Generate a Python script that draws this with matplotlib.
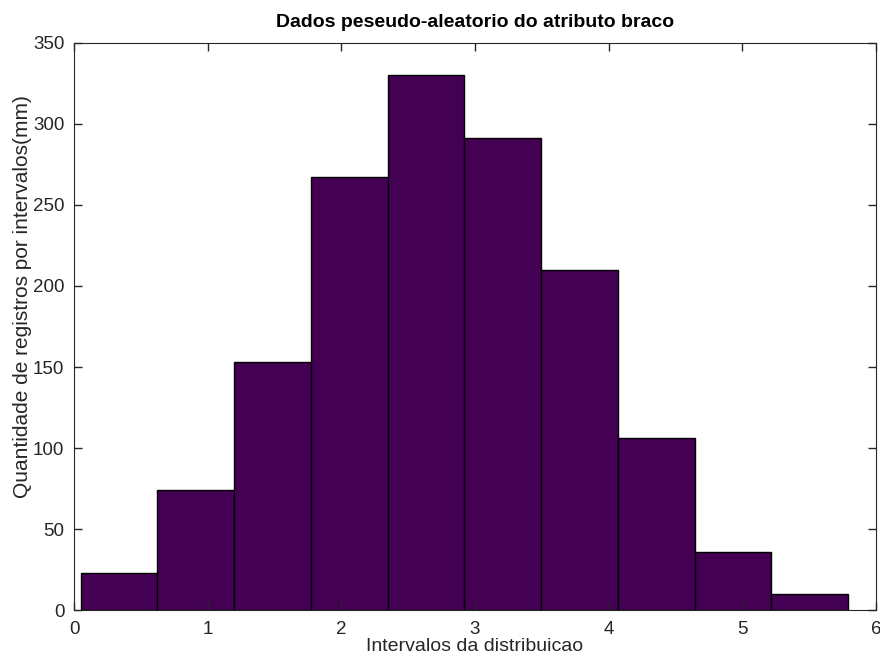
import numpy as np
import matplotlib.pyplot as plt

# Histogram data (Octave-style hist, 10 bins)
counts = [23, 74, 153, 267, 330, 291, 210, 106, 36, 10]
edge_min, edge_max = 0.05, 5.79
xticks = [0, 1, 2, 3, 4, 5, 6]
yticks = [0, 50, 100, 150, 200, 250, 300, 350]

edges = np.linspace(edge_min, edge_max, len(counts) + 1)

plt.rcParams['font.family'] = ['Liberation Sans', 'DejaVu Sans']

fig = plt.figure(figsize=(8.8, 6.57), dpi=100)
ax = fig.add_axes([0.0841, 0.0711, 0.9114, 0.8639])

ax.bar(edges[:-1], counts, width=np.diff(edges), align='edge',
       color='#440154', edgecolor='black', linewidth=1.0)

ax.set_xlim(0, 6)
ax.set_ylim(0, 350)
ax.set_xticks(xticks)
ax.set_yticks(yticks)
ax.tick_params(direction='in', top=True, right=True, length=6,
               labelsize=13.5, colors='#262626', width=1)
ax.tick_params(axis='x', pad=8)
ax.tick_params(axis='y', pad=7)
for s in ax.spines.values():
    s.set_color('#262626')

ax.set_title("Dados peseudo-aleatorio do atributo braco",
             fontsize=14, fontweight='bold', pad=11)
ax.set_xlabel("Intervalos da distribuicao", fontsize=14, color='#262626', labelpad=0)
ax.set_ylabel("Quantidade de registros por intervalos(mm)", fontsize=15,
              color='#262626')
ax.yaxis.set_label_coords(-0.053, 0.553)

fig.savefig("out.png", dpi=100)
